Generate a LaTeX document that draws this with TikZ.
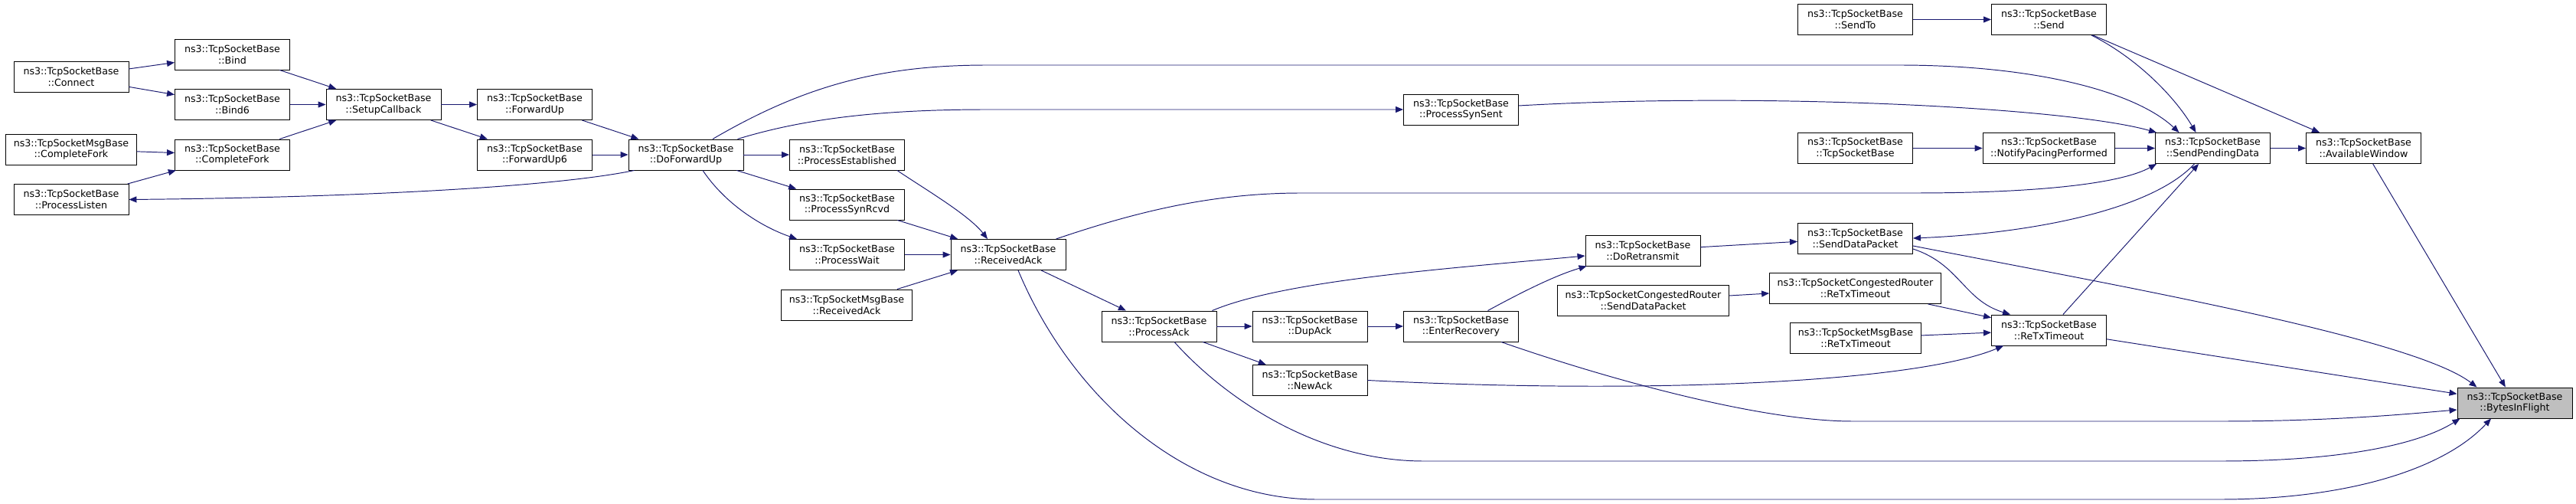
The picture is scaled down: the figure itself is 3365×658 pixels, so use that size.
\documentclass[tikz,border=0pt]{standalone}
\usepackage{fontspec}
\setmainfont{DejaVu Sans}
\usetikzlibrary{arrows.meta, calc}

\definecolor{edgeblue}{HTML}{191970}
\definecolor{rootgray}{HTML}{BFBFBF}

\begin{document}
\begin{tikzpicture}[
    x=0.02cm, y=-0.02cm,
    fnbox/.style={rectangle, draw=black, fill=white, line width=0.55pt, minimum width=3cm, minimum height=0.8cm, inner xsep=0.2cm, inner ysep=0pt, align=center, font=\fontsize{7.2pt}{8.4pt}\selectfont},
    rootbox/.style={fnbox, fill=rootgray},
    arrow/.style={-{Triangle[length=0.2cm, width=0.16cm]}, line width=0.55pt, draw=edgeblue}
]
\useasboundingbox (0,0) rectangle (3365,658);

% Connect / Listen side
\node[fnbox] (connect) at (93,100.5) {ns3::TcpSocketBase\\::Connect};
\node[fnbox] (msgcompletefork) at (93,195) {ns3::TcpSocketMsgBase\\::CompleteFork};
\node[fnbox] (processlisten) at (93,260.5) {ns3::TcpSocketBase\\::ProcessListen};
\node[fnbox] (bind) at (303.5,71) {ns3::TcpSocketBase\\::Bind};
\node[fnbox] (bindsix) at (303.5,136.5) {ns3::TcpSocketBase\\::Bind6};
\node[fnbox] (completefork) at (303.5,202) {ns3::TcpSocketBase\\::CompleteFork};
\node[fnbox] (setupcallback) at (501,136.5) {ns3::TcpSocketBase\\::SetupCallback};
\node[fnbox] (forwardup) at (698.5,136.5) {ns3::TcpSocketBase\\::ForwardUp};
\node[fnbox] (forwardupsix) at (698.5,202) {ns3::TcpSocketBase\\::ForwardUp6};
\node[fnbox] (doforwardup) at (896,202) {ns3::TcpSocketBase\\::DoForwardUp};

% Receive path
\node[fnbox] (processestablished) at (1106.5,202) {ns3::TcpSocketBase\\::ProcessEstablished};
\node[fnbox] (processsynrcvd) at (1106.5,267) {ns3::TcpSocketBase\\::ProcessSynRcvd};
\node[fnbox] (processwait) at (1106.5,332.5) {ns3::TcpSocketBase\\::ProcessWait};
\node[fnbox] (msgreceivedack) at (1106,398) {ns3::TcpSocketMsgBase\\::ReceivedAck};
\node[fnbox] (receivedack) at (1317,332.5) {ns3::TcpSocketBase\\::ReceivedAck};
\node[fnbox] (processack) at (1514,426) {ns3::TcpSocketBase\\::ProcessAck};
\node[fnbox] (dupack) at (1711,426) {ns3::TcpSocketBase\\::DupAck};
\node[fnbox] (newack) at (1711,496.5) {ns3::TcpSocketBase\\::NewAck};
\node[fnbox] (enterrecovery) at (1908.5,426) {ns3::TcpSocketBase\\::EnterRecovery};
\node[fnbox] (processsynsent) at (1908.5,143) {ns3::TcpSocketBase\\::ProcessSynSent};

% Send path
\node[fnbox] (doretransmit) at (2146,327) {ns3::TcpSocketBase\\::DoRetransmit};
\node[fnbox] (crsenddatapacket) at (2146.5,392.5) {ns3::TcpSocketCongestedRouter\\::SendDataPacket};
\node[fnbox] (sendto) at (2423.5,25.5) {ns3::TcpSocketBase\\::SendTo};
\node[fnbox] (ctor) at (2423.5,193.5) {ns3::TcpSocketBase\\::TcpSocketBase};
\node[fnbox] (senddatapacket) at (2423.5,311) {ns3::TcpSocketBase\\::SendDataPacket};
\node[fnbox] (crretxtimeout) at (2423.5,376.5) {ns3::TcpSocketCongestedRouter\\::ReTxTimeout};
\node[fnbox] (msgretxtimeout) at (2424,441.5) {ns3::TcpSocketMsgBase\\::ReTxTimeout};
\node[fnbox] (send) at (2676.5,25.5) {ns3::TcpSocketBase\\::Send};
\node[fnbox] (notifypacing) at (2676.5,193.5) {ns3::TcpSocketBase\\::NotifyPacingPerformed};
\node[fnbox] (retxtimeout) at (2676.5,431) {ns3::TcpSocketBase\\::ReTxTimeout};
\node[fnbox] (sendpendingdata) at (2890.5,193.5) {ns3::TcpSocketBase\\::SendPendingData};
\node[fnbox] (availablewindow) at (3087.5,193.5) {ns3::TcpSocketBase\\::AvailableWindow};
\node[rootbox] (bytesinflight) at (3285,526) {ns3::TcpSocketBase\\::BytesInFlight};

% Arrows: left part
\draw[arrow] (connect) -- (bind);
\draw[arrow] (connect) -- (bindsix);
\draw[arrow] (bind) -- (setupcallback);
\draw[arrow] (bindsix) -- (setupcallback);
\draw[arrow] (completefork) -- (setupcallback);
\draw[arrow] (msgcompletefork) -- (completefork);
\draw[arrow] (processlisten) -- (completefork);
\draw[arrow] (setupcallback) -- (forwardup);
\draw[arrow] (setupcallback) -- (forwardupsix);
\draw[arrow] (forwardup) -- (doforwardup);
\draw[arrow] (forwardupsix) -- (doforwardup);
\draw[arrow] ($(doforwardup.south west)+(8,0)$) .. controls (720,245) and (450,258) .. (processlisten.east);

% Arrows: DoForwardUp
\draw[arrow] ($(doforwardup.north)+(35,0)$) .. controls (1050,112) and (1150,85) .. (1290,85) -- (2480,85) .. controls (2660,85) and (2790,120) .. ($(sendpendingdata.north)+(-44,0)$);
\draw[arrow] ($(doforwardup.north east)+(-8,0)$) .. controls (1050,155) and (1150,143) .. (1290,143) -- (processsynsent.west);
\draw[arrow] (doforwardup) -- (processestablished);
\draw[arrow] (doforwardup) -- (processsynrcvd);
\draw[arrow] ($(doforwardup.south)+(22,0)$) .. controls (950,270) and (1000,298) .. ($(processwait.north west)+(10,0)$);

% Arrows: ReceivedAck
\draw[arrow] ($(processestablished.south east)+(-10,0)$) .. controls (1205,245) and (1265,280) .. ($(receivedack.north)+(-27,0)$);
\draw[arrow] (processsynrcvd) -- (receivedack);
\draw[arrow] (processwait) -- (receivedack);
\draw[arrow] (msgreceivedack) -- (receivedack);
\draw[arrow] (receivedack) -- (processack);
\draw[arrow] ($(receivedack.north east)+(-13,0)$) .. controls (1480,278) and (1580,252) .. (1700,252) -- (2500,252) .. controls (2660,252) and (2770,240) .. ($(sendpendingdata.south west)+(2,0)$);
\draw[arrow] ($(receivedack.south)+(13,0)$) .. controls (1400,520) and (1550,652) .. (1720,652) -- (2900,652) .. controls (3060,652) and (3190,615) .. ($(bytesinflight.south)+(-31,0)$);

% Arrows: ProcessAck
\draw[arrow] (processack) -- (dupack);
\draw[arrow] (dupack) -- (enterrecovery);
\draw[arrow] (processack) -- (newack);
\draw[arrow] ($(processack.north east)+(-6,0)$) .. controls (1680,365) and (1900,350) .. ($(doretransmit.west)+(0,7)$);
\draw[arrow] ($(processack.south)+(20,0)$) .. controls (1600,520) and (1720,602) .. (1860,602) -- (2900,602) .. controls (3060,602) and (3160,580) .. ($(bytesinflight.south west)+(4,0)$);
\draw[arrow] ($(enterrecovery.north)+(35,0)$) .. controls (1985,383) and (2030,360) .. ($(doretransmit.south west)+(2,0)$);
\draw[arrow] ($(enterrecovery.south east)+(-23,0)$) .. controls (2100,495) and (2300,550) .. (2420,550) -- (2900,550) .. controls (3050,550) and (3150,540) .. ($(bytesinflight.west)+(0,9)$);
\draw[arrow] (newack.east) .. controls (2150,515) and (2500,500) .. ($(retxtimeout.south west)+(16,0)$);

% Arrows: retransmission
\draw[arrow] (doretransmit) -- (senddatapacket);
\draw[arrow] (crsenddatapacket) -- (crretxtimeout);
\draw[arrow] (crretxtimeout) -- (retxtimeout);
\draw[arrow] (msgretxtimeout) -- (retxtimeout);
\draw[arrow] ($(senddatapacket.east)+(0,14)$) .. controls (2560,345) and (2565,392) .. ($(retxtimeout.north west)+(25,0)$);
\draw[arrow] ($(senddatapacket.east)+(0,10)$) .. controls (2750,370) and (3150,440) .. ($(bytesinflight.north west)+(26,0)$);
\draw[arrow] ($(sendpendingdata.south)+(-24,0)$) .. controls (2810,275) and (2650,305) .. (senddatapacket.east);
\draw[arrow] (retxtimeout) -- (sendpendingdata);
\draw[arrow] (retxtimeout) -- (bytesinflight);

% Arrows: top right
\draw[arrow] (sendto) -- (send);
\draw[arrow] ($(send.south east)+(-20,0)$) .. controls (2790,75) and (2840,125) .. ($(sendpendingdata.north)+(-22,0)$);
\draw[arrow] ($(send.south east)+(-18,0)$) -- ($(availablewindow.north west)+(18,0)$);
\draw[arrow] ($(processsynsent.east)+(0,-5)$) .. controls (2300,120) and (2700,140) .. ($(sendpendingdata.north west)+(2,0)$);
\draw[arrow] (ctor) -- (notifypacing);
\draw[arrow] (notifypacing) -- (sendpendingdata);
\draw[arrow] (sendpendingdata) -- (availablewindow);
\draw[arrow] (availablewindow) -- (bytesinflight);

\end{tikzpicture}
\end{document}
